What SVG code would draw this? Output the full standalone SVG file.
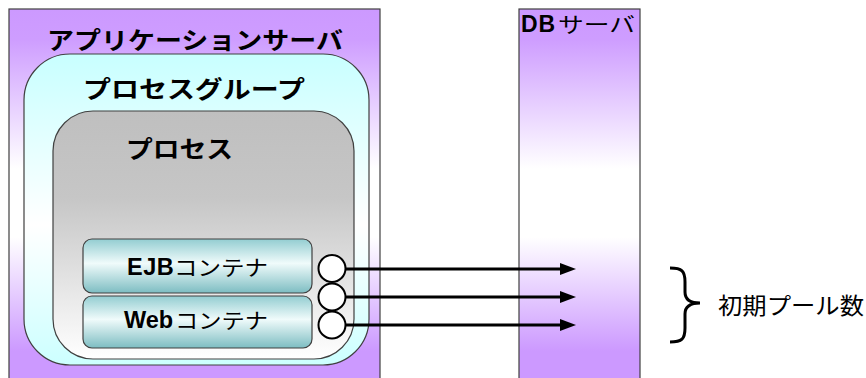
<svg xmlns="http://www.w3.org/2000/svg" width="866" height="378" viewBox="0 0 866 378">
<defs>
<linearGradient id="gPurple" x1="0" y1="0" x2="0" y2="1">
<stop offset="0" stop-color="#CC99FF"/>
<stop offset="0.08" stop-color="#CE9DFF"/>
<stop offset="0.42" stop-color="#FFFFFF"/>
<stop offset="0.6" stop-color="#FFFFFF"/>
<stop offset="0.9" stop-color="#CC99FF"/>
<stop offset="1" stop-color="#CC99FF"/>
</linearGradient>
<linearGradient id="gCyan" x1="0" y1="0" x2="0" y2="1">
<stop offset="0" stop-color="#C8FFFF"/>
<stop offset="0.55" stop-color="#FFFFFF"/>
<stop offset="1" stop-color="#CCFFFF"/>
</linearGradient>
<linearGradient id="gGray" x1="0" y1="0" x2="0" y2="1">
<stop offset="0" stop-color="#BFBFBF"/>
<stop offset="0.35" stop-color="#C6C6C6"/>
<stop offset="1" stop-color="#FFFFFF"/>
</linearGradient>
<linearGradient id="gTeal" x1="0" y1="0" x2="0" y2="1">
<stop offset="0" stop-color="#93CDD1"/>
<stop offset="0.45" stop-color="#F0FBFB"/>
<stop offset="1" stop-color="#7DBDC2"/>
</linearGradient>
<marker id="arrow" markerUnits="userSpaceOnUse" markerWidth="16" markerHeight="12" refX="1" refY="6" orient="auto">
<path d="M0,0 L16,6 L0,12 Z" fill="#000"/>
</marker>
</defs>
<style>
.box{stroke:#404040;stroke-width:1.2}
.jp{font-family:"Noto Sans CJK JP","Liberation Sans",sans-serif;fill:#000}
.lat{font-family:"Liberation Sans","Noto Sans CJK JP",sans-serif;font-weight:bold;fill:#000}
.b{font-weight:bold}
.conn{stroke:#000;stroke-width:3;fill:none}
.port{fill:#fff;stroke:#000;stroke-width:2}
</style>

<g id="app-server">
<rect class="box" x="9" y="9" width="371" height="380" fill="url(#gPurple)"/>
<text class="jp b" x="47" y="49" font-size="24" textLength="296" lengthAdjust="spacingAndGlyphs">アプリケーションサーバ</text>
</g>

<g id="process-group">
<rect class="box" x="24" y="54" width="345" height="311" rx="46" ry="46" fill="url(#gCyan)"/>
<text class="jp b" x="83" y="98" font-size="24" textLength="222" lengthAdjust="spacingAndGlyphs">プロセスグループ</text>
</g>

<g id="process">
<rect class="box" x="53" y="111" width="301" height="248" rx="40" ry="40" fill="url(#gGray)"/>
<text class="jp b" x="126" y="158" font-size="24" textLength="107" lengthAdjust="spacingAndGlyphs">プロセス</text>
</g>

<g id="ejb-container">
<rect class="box" x="83" y="239" width="229" height="54" rx="9" ry="9" fill="url(#gTeal)"/>
<text class="lat" x="127" y="275" font-size="23.5" letter-spacing="0.5">EJB</text>
<text class="jp" x="174" y="275" font-size="21" textLength="94" lengthAdjust="spacingAndGlyphs">コンテナ</text>
</g>

<g id="web-container">
<rect class="box" x="83" y="296" width="229" height="52" rx="9" ry="9" fill="url(#gTeal)"/>
<text class="lat" x="124" y="328" font-size="23.5">Web</text>
<text class="jp" x="175" y="328" font-size="21" textLength="93" lengthAdjust="spacingAndGlyphs">コンテナ</text>
</g>

<g id="db-server">
<rect class="box" x="519" y="9" width="121" height="380" fill="url(#gPurple)"/>
<text class="lat" x="521" y="32" font-size="23" letter-spacing="1">DB</text>
<text class="jp" x="558" y="32" font-size="21" textLength="77" lengthAdjust="spacingAndGlyphs">サーバ</text>
</g>

<g id="connectors">
<line class="conn" x1="346" y1="269" x2="561" y2="269" marker-end="url(#arrow)"/>
<line class="conn" x1="346" y1="297" x2="561" y2="297" marker-end="url(#arrow)"/>
<line class="conn" x1="346" y1="325" x2="561" y2="325" marker-end="url(#arrow)"/>
<circle class="port" cx="332" cy="268.5" r="13.5"/>
<circle class="port" cx="332" cy="297" r="13.5"/>
<circle class="port" cx="332" cy="325" r="13.5"/>
</g>

<g id="pool-label">
<path class="conn" d="M670,268 C682,268 685,271 685,282 L685,292 C685,299 690,303 700,303 C690,303 685,307 685,314 L685,328 C685,339 682,342 670,342"/>
<text class="jp" x="718" y="314" font-size="23" textLength="146" lengthAdjust="spacingAndGlyphs">初期プール数</text>
</g>
</svg>
